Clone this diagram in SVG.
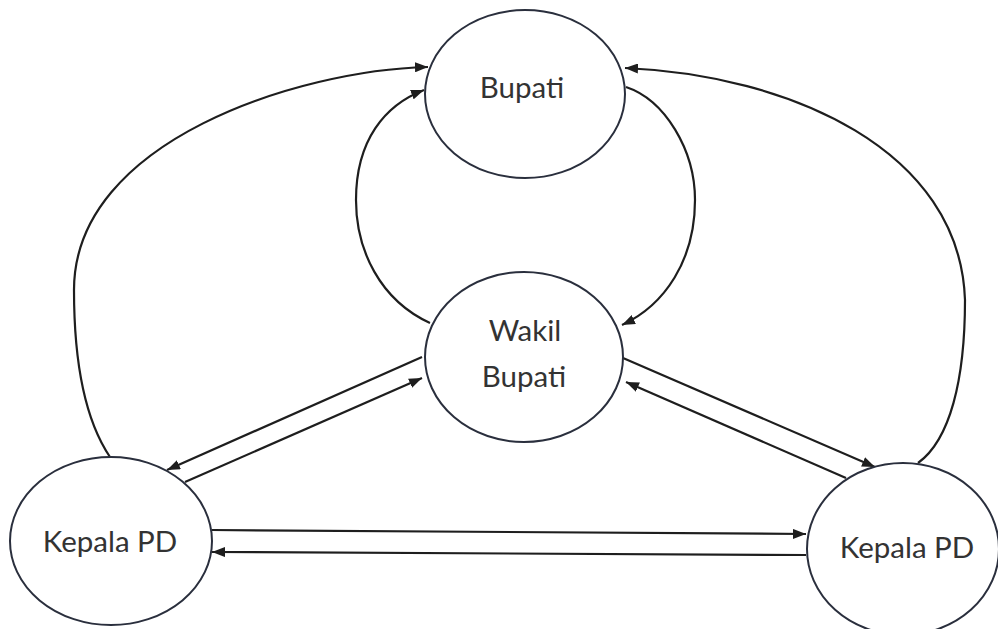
<svg xmlns="http://www.w3.org/2000/svg" width="998" height="629" viewBox="0 0 998 629">
<style>
.node ellipse{fill:#fff;stroke:#2a2f3d;stroke-width:2}
.node text{font-family:Lato,"Liberation Sans",sans-serif;font-size:29.5px;fill:#333;text-anchor:middle}
.conn path{fill:none;stroke:#1e1e1e;stroke-width:2.2;marker-end:url(#arr)}
</style>
<defs>
<marker id="arr" markerUnits="userSpaceOnUse" markerWidth="14" markerHeight="10" refX="13" refY="5" orient="auto">
<path d="M0,0 L13,5 L0,10 z" fill="#1e1e1e"/>
</marker>
</defs>
<rect width="998" height="629" fill="#fff"/>
<g id="connectors" class="conn">
<path d="M110,457 C85,420 74,360 74,290 C74,140 300,70 428,67"/>
<path d="M430,323 C380,300 356,250 356,200 C356,140 385,105 424,90"/>
<path d="M626,87 C665,100 695,150 695,200 C695,260 665,305 622,325"/>
<path d="M918,463 C950,440 965,380 965,300 C960,150 790,75 625,68"/>
<path d="M422,357 L167,470"/>
<path d="M185,482 L422,378"/>
<path d="M623,358 L875,467"/>
<path d="M846,478 L626,382"/>
<path d="M212,530 L806,534"/>
<path d="M806,555 L212,552"/>
</g>
<g id="bupati" class="node">
<ellipse cx="525" cy="94" rx="100" ry="84"/>
<text x="522" y="98">Bupati</text>
</g>
<g id="wakil-bupati" class="node">
<ellipse cx="524" cy="357" rx="99" ry="85"/>
<text x="525" y="341">Wakil</text>
<text x="524" y="387">Bupati</text>
</g>
<g id="kepala-pd-left" class="node">
<ellipse cx="111" cy="541" rx="101" ry="84"/>
<text x="110" y="552">Kepala PD</text>
</g>
<g id="kepala-pd-right" class="node">
<ellipse cx="903" cy="549" rx="96" ry="86"/>
<text x="907" y="558">Kepala PD</text>
</g>
</svg>
